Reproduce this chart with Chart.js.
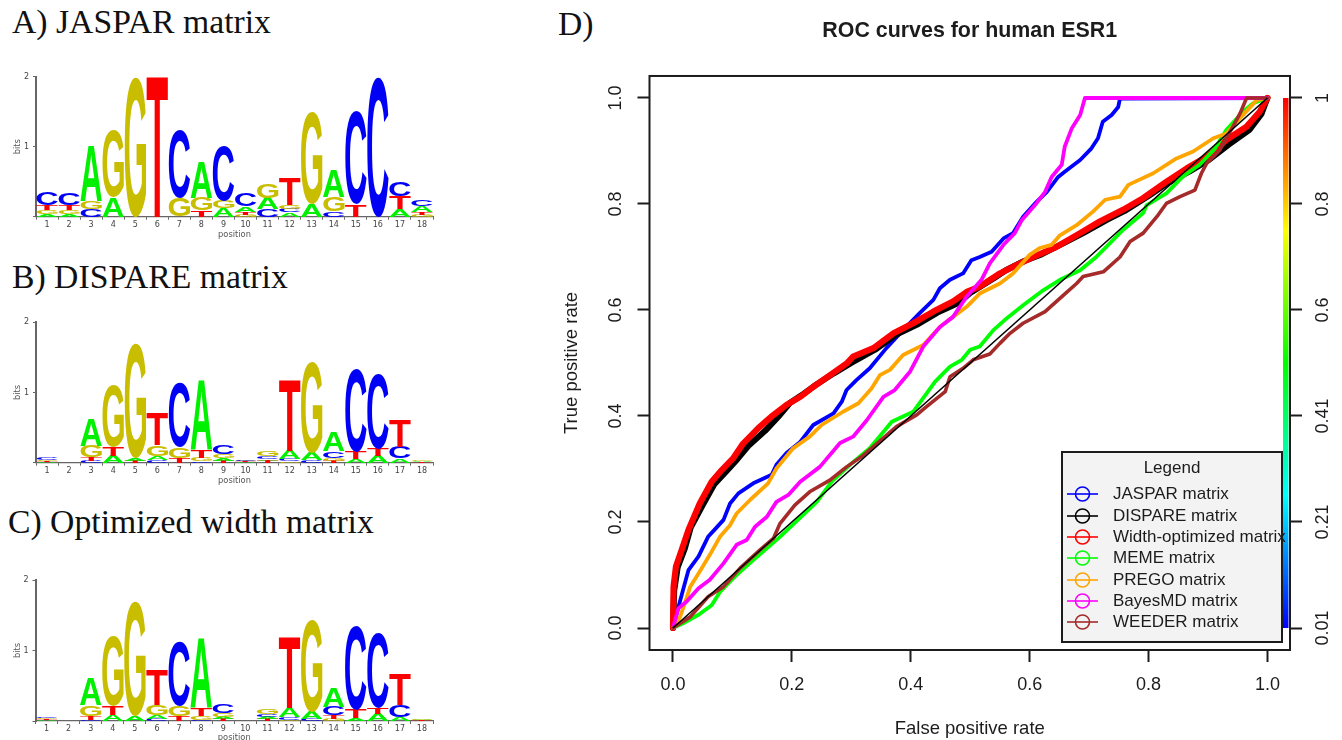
<!DOCTYPE html>
<html><head><meta charset="utf-8">
<style>
html,body{margin:0;padding:0;background:#fff;width:1342px;height:740px;overflow:hidden}
canvas{position:absolute;filter:blur(.45px)}
.p{position:absolute;font-family:"Liberation Serif",serif;font-size:33.7px;line-height:36px;color:#111;white-space:nowrap}
</style>
<script src="https://cdn.jsdelivr.net/npm/chart.js@4"></script>
</head><body>
<div class="p" style="left:12px;top:4px">A) JASPAR matrix</div>
<div class="p" style="left:12px;top:259px">B) DISPARE matrix</div>
<div class="p" style="left:8px;top:504px">C) Optimized width matrix</div>
<div class="p" style="left:558px;top:6px">D)</div>
<canvas id="logoA" width="450" height="190" style="left:0;top:60px"></canvas>
<canvas id="logoB" width="450" height="180" style="left:0;top:310px"></canvas>
<canvas id="logoC" width="450" height="185" style="left:0;top:565px"></canvas>
<canvas id="roc" width="802" height="740" style="left:540px;top:0"></canvas>
<script>
// ---------- Sequence logos: letters bottom-to-top, heights in bits ----------
const positions = ['1','2','3','4','5','6','7','8','9','10','11','12','13','14','15','16','17','18'];
const baseColors = {A:'#00f000',C:'#0000f5',G:'#c9bd00',T:'#fa0000'};

const jasparLetters = ['AGTC','AGTC','CGA','AG','G','T','GC','TGA','AGC','GTAC','CAG','ACGT','AG','CGA','TC','C','ATC','GTAC'];
const jasparBits = [[.04,.05,.07,.18],[.04,.05,.07,.17],[.11,.11,.79],[.28,.95],[2],[2],[.27,.97],[.09,.18,.52],[.12,.11,.78],
 [.03,.04,.08,.19],[.11,.16,.21],[.06,.05,.06,.39],[.18,1.32],[.08,.2,.38],[.17,1.33],[2],[.11,.18,.2],[.03,.03,.09,.1]];

const dispareLetters = ['ATGC','ATGC','CTGA','ATG','TAG','CAGT','TGC','CGTA','TAGC','ATGC','TACG','GCAT','CAG','TGCA','ATC','ATC','ACT','TAG'];
const dispareBits = [[.01,.02,.01,.03],[.004,.004,.004,.004],[.03,.05,.16,.38],[.1,.12,.88],[.03,.04,1.63],[.04,.06,.15,.45],[.07,.15,.92],[.02,.05,.1,1],
 [.03,.03,.06,.12],[.01,.01,.01,.01],[.03,.02,.04,.07],[.02,.03,.12,1],[.04,.1,1.3],[.03,.04,.1,.27],[.05,.1,1.18],[.1,.1,1.06],[.06,.17,.38],[.01,.01,.02]];

const optimizedLetters = ['ATGC','ATGC','CTGA','ATG','AG','CAGT','TGC','CGTA','TAGC','ATGC','TACG','GCAT','CAG','GTCA','ATC','ATC','ACT','TAG'];
const optimizedBits = [[.01,.02,.01,.02],[.004,.004,.004,.004],[.02,.05,.15,.38],[.08,.13,.99],[.07,1.63],[.03,.05,.14,.48],[.07,.15,.92],[.01,.06,.11,.99],
 [.03,.03,.05,.13],[.003,.003,.003,.003],[.03,.03,.04,.07],[.02,.04,.12,.99],[.03,.1,1.31],[.03,.05,.12,.27],[.04,.12,1.19],[.1,.09,1.06],[.06,.17,.43],[.01,.01,.02]];

// ---------- ROC curves ----------
const xBlue=[0,.011,.017,.026,.043,.059,.072,.085,.096,.110,.135,.166,.174,.191,.214,.236,.270,.284,.292,.309,.331,.359,.387,.415,.438,.449,.466,.488,.502,.516,.536,.556,.572,.589,.609,.629,.648,.659,.685,.704,.715,.723,.738,.749,.752,1];
const yBlue=[0,.047,.072,.109,.135,.172,.188,.204,.235,.254,.273,.289,.308,.330,.351,.383,.405,.427,.449,.468,.490,.528,.562,.594,.619,.641,.657,.669,.694,.700,.710,.735,.745,.776,.801,.823,.851,.861,.883,.905,.924,.955,.968,.983,.999,1];
const xBlack=[0,.002,.008,.02,.03,.05,.07,.09,.108,.128,.155,.18,.197,.22,.242,.27,.30,.34,.375,.41,.445,.48,.5,.54,.56,.59,.62,.65,.69,.73,.76,.80,.83,.87,.90,.935,.97,.99,1];
const yBlack=[0,.07,.115,.15,.19,.232,.272,.296,.318,.345,.372,.402,.425,.442,.46,.48,.5,.525,.553,.572,.595,.613,.632,.66,.675,.692,.705,.722,.745,.77,.787,.815,.838,.862,.882,.912,.94,.97,1];
const xRed=[0,.001,.005,.0146,.026,.045,.065,.082,.101,.118,.1435,.169,.191,.214,.236,.264,.292,.303,.337,.371,.404,.438,.471,.494,.516,.550,.578,.606,.645,.685,.718,.757,.791,.830,.864,.898,.931,.965,.987,1];
const yRed=[0,.078,.116,.147,.185,.235,.276,.298,.320,.348,.377,.402,.421,.436,.455,.477,.499,.512,.528,.556,.575,.597,.616,.634,.644,.669,.685,.700,.719,.745,.767,.789,.811,.842,.867,.889,.921,.946,.974,1];
const xGreen=[0,.017,.043,.065,.079,.104,.135,.180,.242,.267,.301,.331,.357,.368,.404,.427,.441,.466,.486,.500,.516,.539,.558,.589,.620,.651,.685,.710,.729,.757,.791,.797,.830,.858,.886,.912,.931,.959,.976,1];
const yGreen=[0,.009,.025,.043,.068,.097,.128,.172,.238,.276,.311,.339,.374,.389,.408,.443,.465,.493,.506,.525,.531,.562,.581,.609,.635,.657,.675,.698,.719,.751,.783,.798,.820,.852,.874,.905,.940,.974,.990,1];
const xOrange=[0,.012,.020,.029,.043,.065,.079,.096,.107,.130,.160,.174,.202,.230,.250,.286,.312,.334,.348,.365,.387,.421,.449,.471,.494,.516,.550,.572,.600,.617,.637,.651,.679,.707,.727,.752,.766,.808,.847,.875,.909,.931,.954,.982,1];
const yOrange=[0,.021,.047,.078,.103,.144,.172,.194,.216,.242,.273,.301,.339,.361,.383,.408,.424,.452,.477,.487,.515,.534,.568,.587,.606,.631,.650,.669,.704,.717,.723,.741,.760,.786,.808,.814,.836,.858,.886,.899,.924,.933,.962,.996,1];
const xMagenta=[0,.009,.023,.043,.062,.085,.107,.124,.138,.158,.174,.194,.214,.247,.281,.303,.326,.354,.373,.399,.421,.449,.471,.494,.519,.533,.556,.575,.587,.609,.626,.637,.654,.659,.671,.685,.693,1];
const yMagenta=[0,.037,.050,.075,.091,.122,.157,.166,.191,.210,.238,.251,.276,.304,.349,.361,.392,.436,.449,.484,.531,.568,.587,.625,.657,.688,.723,.745,.770,.798,.823,.851,.874,.908,.943,.968,1,1];
const xBrown=[0,.029,.059,.085,.113,.146,.169,.180,.205,.230,.264,.292,.317,.343,.376,.410,.427,.458,.466,.488,.505,.533,.550,.567,.589,.626,.657,.679,.690,.724,.752,.769,.791,.814,.830,.853,.878,.889,.898,.920,.942,.954,.965,1];
const yBrown=[0,.021,.059,.078,.113,.147,.169,.197,.232,.257,.279,.304,.323,.348,.380,.402,.418,.446,.474,.490,.506,.517,.537,.556,.575,.597,.628,.650,.663,.672,.700,.729,.745,.776,.801,.814,.826,.858,.877,.902,.946,.971,1,1];
const xChance=[0,1], yChance=[0,1];

const curveNames=['JASPAR matrix','DISPARE matrix','Width-optimized matrix','MEME matrix','PREGO matrix','BayesMD matrix','WEEDER matrix'];
const curveColors=['#0000ff','#000000','#ff0000','#00ff00','#ffa500','#ff00ff','#a52a2a'];
const curveWidths=[3.8,6,6.2,3.8,3.8,3.8,3.6];
const curveX=[xBlue,xBlack,xRed,xGreen,xOrange,xMagenta,xBrown];
const curveY=[yBlue,yBlack,yRed,yGreen,yOrange,yMagenta,yBrown];

const axisTicks=[0,.2,.4,.6,.8,1];
const cutoffLabels=['0.01','0.21','0.41','0.6','0.8','1'];
const cutoffColors=['#0000ff','#00ffff','#00ff00','#ffff00','#ff0000'];

const sans='"Liberation Sans",Arial,sans-serif';
const ink='#1c1c1c';

// ---------- Logo plugin: stretches real text glyphs between scale values ----------
const glyphFont='bold 200px "Liberation Sans"';
const glyphBoxes={};
function glyphBox(L){
  if(glyphBoxes[L])return glyphBoxes[L];
  const c=document.createElement('canvas');c.width=300;c.height=300;
  const g=c.getContext('2d',{willReadFrequently:true});
  g.font=glyphFont;g.textBaseline='alphabetic';g.textAlign='left';g.fillStyle='#000';
  g.fillText(L,40,240);
  const d=g.getImageData(0,0,300,300).data;
  let x0=300,x1=0,y0=300,y1=0;
  for(let yy=0;yy<300;yy++)for(let xx=0;xx<300;xx++){
    if(d[(yy*300+xx)*4+3]>100){if(xx<x0)x0=xx;if(xx>x1)x1=xx;if(yy<y0)y0=yy;if(yy>y1)y1=yy;}
  }
  return glyphBoxes[L]={left:x0-40,top:y0-240,w:x1-x0+1,h:y1-y0+1};
}
const logoPlugin={id:'logo',afterDatasetsDraw(chart,_,o){
  const {ctx,scales:{x,y}}=chart;
  const band=x.getPixelForValue(1)-x.getPixelForValue(0);
  const w=band*0.96;
  ctx.save();
  ctx.font=glyphFont;
  ctx.textBaseline='alphabetic';ctx.textAlign='left';
  o.letters.forEach((s,i)=>{
    let acc=0;
    [...s].forEach((L,k)=>{
      const h=o.bits[i][k];
      const yB=y.getPixelForValue(acc), yT=y.getPixelForValue(acc+h);
      acc+=h;
      const b=glyphBox(L);
      ctx.save();
      ctx.translate(x.getPixelForValue(i)-w/2,yT);
      ctx.scale(w/b.w,(yB-yT)/b.h);
      ctx.fillStyle=baseColors[L];
      ctx.fillText(L,-b.left,-b.top);
      ctx.restore();
    });
  });
  ctx.restore();
}};

function makeLogo(id,letters,bits,g){
  new Chart(document.getElementById(id),{
    type:'bar',
    plugins:[logoPlugin],
    data:{labels:positions,datasets:[{label:'bits',data:bits.map(b=>b.reduce((a,c)=>a+c,0)),backgroundColor:'rgba(0,0,0,0)',borderWidth:0}]},
    options:{responsive:false,animation:false,
      layout:{padding:{top:g.top,right:g.right,left:0,bottom:0}},
      plugins:{legend:{display:false},title:{display:false},tooltip:{enabled:false},logo:{letters,bits}},
      scales:{
        x:{type:'category',offset:true,afterFit:s=>{s.height=g.bottom},
          grid:{offset:true,drawOnChartArea:false,tickLength:3,color:'#666',tickWidth:1},
          border:{color:'#666',width:1.2},
          ticks:{autoSkip:false,maxRotation:0,font:{family:'DejaVu Sans',size:8},color:'#444',padding:0},
          title:{display:true,text:'position',font:{family:'DejaVu Sans',size:8.3},color:'#555',padding:{top:0,bottom:g.posPad}}},
        y:{min:0,max:2,afterFit:s=>{s.width=g.left},afterBuildTicks:s=>{s.ticks=[0,1,2].map(v=>({value:v}))},
          grid:{drawOnChartArea:false,tickLength:3,color:'#666',tickWidth:1},
          border:{color:'#666',width:2},
          ticks:{font:{family:'DejaVu Sans',size:8},color:'#444',padding:4,callback:v=>v===0?'':String(v)},
          title:{display:true,text:'bits',font:{family:'DejaVu Sans',size:8.3},color:'#555',padding:{top:13,bottom:0}}}
      }}
  });
}
makeLogo('logoA',jasparLetters,jasparBits,{left:36,right:17,top:16.7,bottom:33.3,posPad:10});
makeLogo('logoB',dispareLetters,dispareBits,{left:36,right:17,top:12.3,bottom:27.3,posPad:4});
makeLogo('logoC',optimizedLetters,optimizedBits,{left:35.5,right:17,top:15,bottom:29,posPad:7});

// ---------- ROC panel plugins ----------
const panelPlugin={id:'panel',
  afterDatasetsDraw(chart){
    const {ctx,chartArea:a,scales:{y2}}=chart;
    ctx.save();
    ctx.strokeStyle=ink;ctx.lineWidth=2;
    ctx.strokeRect(a.left,a.top,a.right-a.left,a.bottom-a.top);
    const yTop=y2.getPixelForValue(1), yBot=y2.getPixelForValue(0);
    const gr=ctx.createLinearGradient(0,yBot,0,yTop);
    cutoffColors.forEach((c,i)=>gr.addColorStop(i/(cutoffColors.length-1),c));
    ctx.fillStyle=gr;
    ctx.fillRect(a.right-7,yTop,5.5,yBot-yTop);
    ctx.restore();
  },
  afterDraw(chart){
    const {ctx}=chart;
    const L=522,T=452,W=220,H=190;
    ctx.save();
    ctx.fillStyle='#f3f3f3';ctx.fillRect(L,T,W,H);
    ctx.strokeStyle=ink;ctx.lineWidth=2;ctx.strokeRect(L,T,W,H);
    ctx.fillStyle=ink;ctx.textBaseline='middle';
    ctx.font='17px '+sans;
    ctx.textAlign='center';ctx.fillText('Legend',L+110,T+16);
    ctx.textAlign='left';
    const rows=[42,64,85,106,128,149,170];
    curveNames.forEach((n,i)=>{
      const yy=T+rows[i];
      ctx.strokeStyle=i===1?'#000':curveColors[i];ctx.lineWidth=1.6;
      ctx.beginPath();ctx.moveTo(L+5,yy);ctx.lineTo(L+36,yy);ctx.stroke();
      ctx.beginPath();ctx.arc(L+20.5,yy,7,0,Math.PI*2);ctx.stroke();
      ctx.fillStyle=ink;ctx.fillText(n,L+51,yy+.5);
    });
    ctx.restore();
  }};

const datasets=curveNames.map((n,i)=>({label:n,
  data:curveX[i].map((v,k)=>({x:v,y:curveY[i][k]})),
  borderColor:curveColors[i],borderWidth:curveWidths[i],order:10-i,
  showLine:true,pointRadius:0,tension:0,borderJoinStyle:'round',borderCapStyle:'round',clip:false}));
datasets.push({label:'Chance',data:xChance.map((v,k)=>({x:v,y:yChance[k]})),borderColor:'#000',borderWidth:1.6,order:1,showLine:true,pointRadius:0,tension:0});

const tickGrid={drawOnChartArea:false,tickLength:12,tickColor:ink,tickWidth:2,color:ink};
new Chart(document.getElementById('roc'),{
  type:'scatter',
  plugins:[panelPlugin],
  data:{datasets},
  options:{responsive:false,animation:false,
    layout:{padding:0},
    plugins:{legend:{display:false},tooltip:{enabled:false},
      title:{display:true,text:'ROC curves for human ESR1',fullSize:false,color:ink,
        font:{family:sans,size:21.4,weight:'bold',lineHeight:1.2},padding:{top:18,bottom:32.3}}},
    scales:{
      x:{type:'linear',min:-.0395,max:1.038,afterBuildTicks:s=>{s.ticks=axisTicks.map(v=>({value:v}))},afterFit:s=>{s.height=90},
        grid:tickGrid,border:{display:false},
        ticks:{maxRotation:0,font:{family:sans,size:18},color:ink,padding:12,callback:v=>v.toFixed(1)},
        title:{display:true,text:'False positive rate',font:{family:sans,size:18.5},color:ink,padding:{top:0,bottom:0}}},
      y:{type:'linear',position:'left',min:-.0415,max:1.0415,afterBuildTicks:s=>{s.ticks=axisTicks.map(v=>({value:v}))},afterFit:s=>{s.width=109.5},
        grid:tickGrid,border:{display:false},
        ticks:{minRotation:90,maxRotation:90,crossAlign:'center',font:{family:sans,size:18},color:ink,padding:9,callback:v=>v.toFixed(1)},
        title:{display:true,text:'True positive rate',font:{family:sans,size:18.5},color:ink,padding:{top:21,bottom:0}}},
      y2:{type:'linear',position:'right',min:-.0415,max:1.0415,afterBuildTicks:s=>{s.ticks=axisTicks.map(v=>({value:v}))},afterFit:s=>{s.width=52},
        grid:tickGrid,border:{display:false},
        ticks:{minRotation:90,maxRotation:90,crossAlign:'center',font:{family:sans,size:18},color:ink,padding:3.5,
          callback:(v,i)=>cutoffLabels[i]}}
    }}
});
</script>
</body></html>
